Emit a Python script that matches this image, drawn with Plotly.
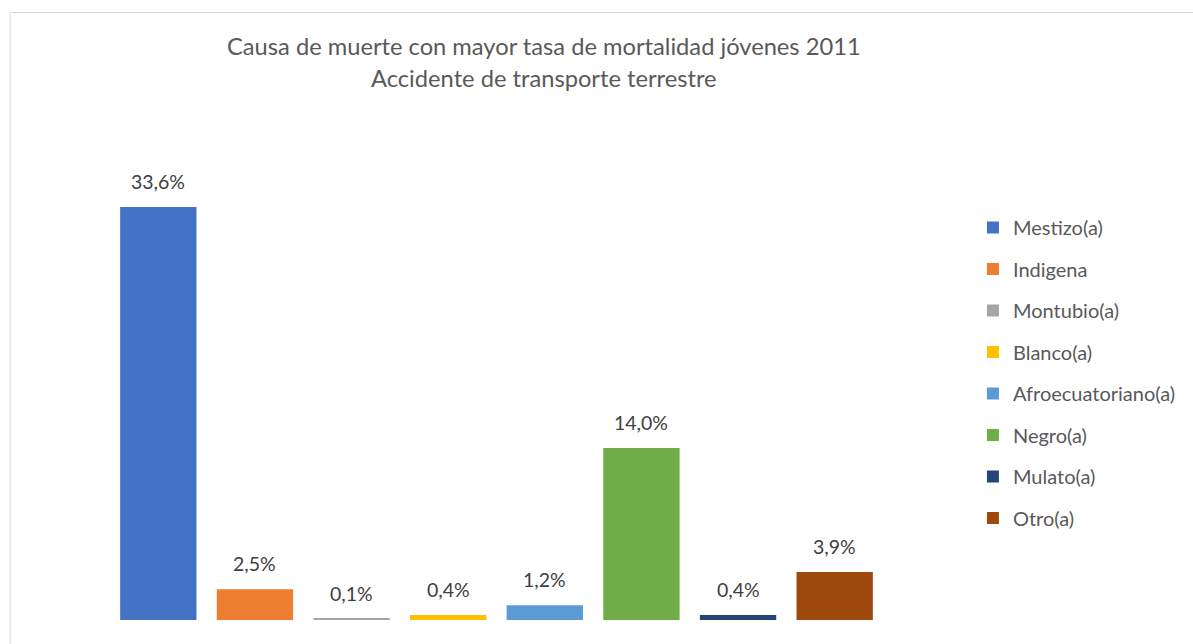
import plotly.graph_objects as go

categories = ["Mestizo(a)", "Indigena", "Montubio(a)", "Blanco(a)",
              "Afroecuatoriano(a)", "Negro(a)", "Mulato(a)", "Otro(a)"]
values = [33.6, 2.5, 0.1, 0.4, 1.2, 14.0, 0.4, 3.9]
colors = ["#4472C4", "#ED7D31", "#A5A5A5", "#FFC000",
          "#5B9BD5", "#70AD47", "#264478", "#9E480E"]
title_lines = ["Causa de muerte con mayor tasa de mortalidad jóvenes 2011",
               "Accidente de transporte terrestre"]

W, H = 1193, 644
pw = 780
L = 159 - pw / 16
R = W - L - pw
T, B = 153, 24
ph = H - T - B

fig = go.Figure()
for i, (c, v, col) in enumerate(zip(categories, values, colors)):
    fig.add_trace(go.Bar(x=[c], y=[v], name=c, marker_color=col,
                         marker_line_width=0, legendgroup=c, width=0.79))

annotations = []
for c, v in zip(categories, values):
    annotations.append(dict(x=c, y=v, xref="x", yref="y", text=f"{v:.1f}%".replace(".", ","),
                            showarrow=False, yanchor="bottom", yshift=12,
                            font=dict(size=19.5, color="#404040", family="Lato")))

def px_x(p):
    return (p - L) / pw

def px_y(p):
    return (H - B - p) / ph

title_cx = px_x(548)
annotations.append(dict(xref="paper", yref="paper", x=title_cx, y=px_y(46),
                        text=title_lines[0], showarrow=False, yanchor="middle",
                        font=dict(size=23.7, color="#595959", family="Lato")))
annotations.append(dict(xref="paper", yref="paper", x=title_cx, y=px_y(78),
                        text=title_lines[1], showarrow=False, yanchor="middle",
                        font=dict(size=23.7, color="#595959", family="Lato")))

fig.add_shape(type="rect", xref="paper", yref="paper",
              x0=px_x(9.5), x1=px_x(1210), y0=px_y(660), y1=px_y(12.5),
              line=dict(color="#D9D9D9", width=1), fillcolor="rgba(0,0,0,0)", layer="below")

fig.update_layout(
    width=W, height=H,
    margin=dict(l=L, r=R, t=T, b=B),
    paper_bgcolor="white", plot_bgcolor="white",
    barmode="overlay",
    showlegend=True,
    legend=dict(x=px_x(981), xanchor="left", y=px_y(208), yanchor="top",
                traceorder="grouped", tracegroupgap=12.5,
                font=dict(size=20, color="#595959", family="Lato"),
                bgcolor="rgba(0,0,0,0)"),
    annotations=annotations,
    xaxis=dict(range=[-0.5, 7.5], showticklabels=False, showgrid=False,
               zeroline=False, showline=False, ticks=""),
    yaxis=dict(range=[0, ph / 12.29], showticklabels=False, showgrid=False,
               zeroline=False, showline=False, ticks=""),
    bargap=0.21,
)

fig.write_html("out.html", config={"displayModeBar": False},
               post_script="document.body.style.margin='0';")
